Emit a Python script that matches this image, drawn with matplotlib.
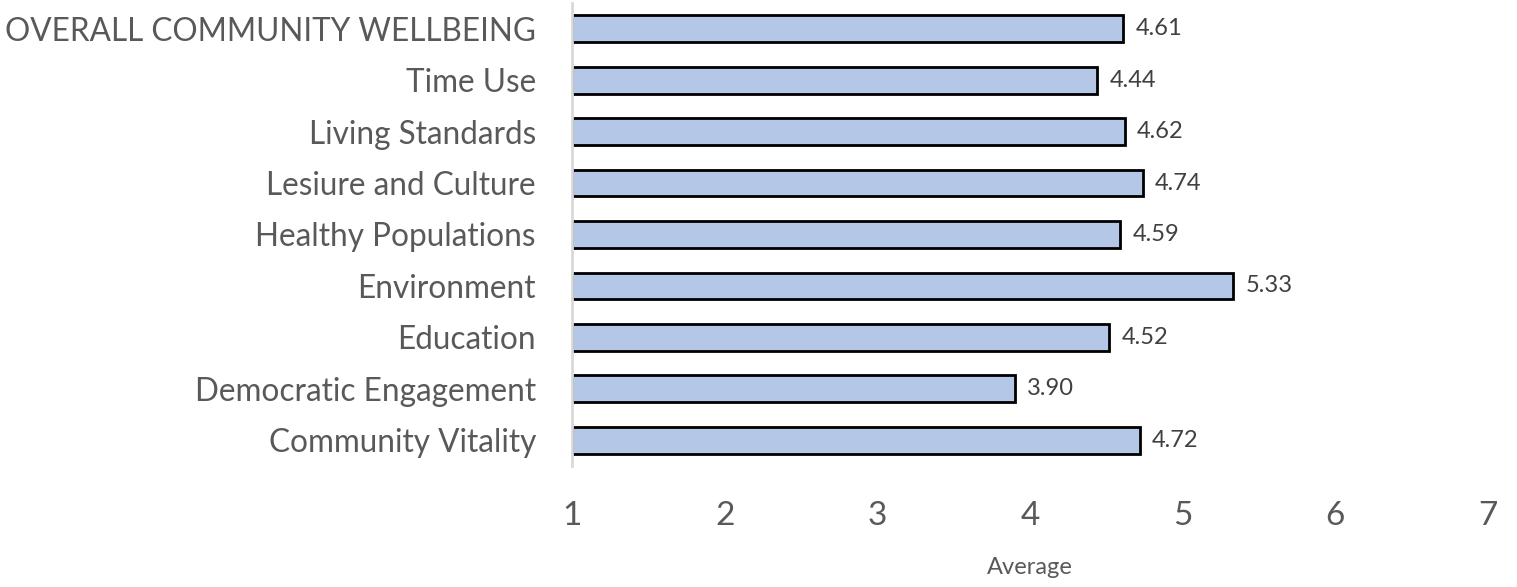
import matplotlib.pyplot as plt

categories = ['OVERALL COMMUNITY WELLBEING', 'Time Use', 'Living Standards',
              'Lesiure and Culture', 'Healthy Populations', 'Environment',
              'Education', 'Democratic Engagement', 'Community Vitality']
values = [4.61, 4.44, 4.62, 4.74, 4.59, 5.33, 4.52, 3.90, 4.72]
xticks = [1, 2, 3, 4, 5, 6, 7]

plt.rcParams['font.family'] = ['Lato', 'DejaVu Sans']

fig = plt.figure(figsize=(15.17, 5.87), dpi=100)
ax = fig.add_axes([572 / 1517, 1 - 466 / 587, (1488 - 572) / 1517, (466 - 3) / 587])

ypos = list(range(len(categories)))[::-1]
ax.barh(ypos, [v - 1 for v in values], left=1, height=0.52,
        color='#B4C7E7', edgecolor='black', linewidth=2)

for y, v in zip(ypos, values):
    ax.text(v + 0.08, y, f'{v:.2f}', va='center', ha='left',
            fontsize=17, color='#404040')

ax.set_xlim(1, 7)
ax.set_ylim(-0.5, len(categories) - 0.5)
ax.set_xticks(xticks)
ax.set_xticklabels([str(t) for t in xticks])
ax.set_yticks(ypos)
ax.set_yticklabels(categories)

ax.tick_params(axis='x', length=0, pad=25, labelsize=24, labelcolor='#595959')
ax.tick_params(axis='y', length=0, pad=26, labelsize=22.7, labelcolor='#595959')

for s in ['top', 'right', 'bottom']:
    ax.spines[s].set_visible(False)
ax.spines['left'].set_color('#D9D9D9')
ax.spines['left'].set_linewidth(2)

ax.set_xlabel('Average', fontsize=17, color='#595959', labelpad=19)

fig.savefig('out.png', dpi=100)
